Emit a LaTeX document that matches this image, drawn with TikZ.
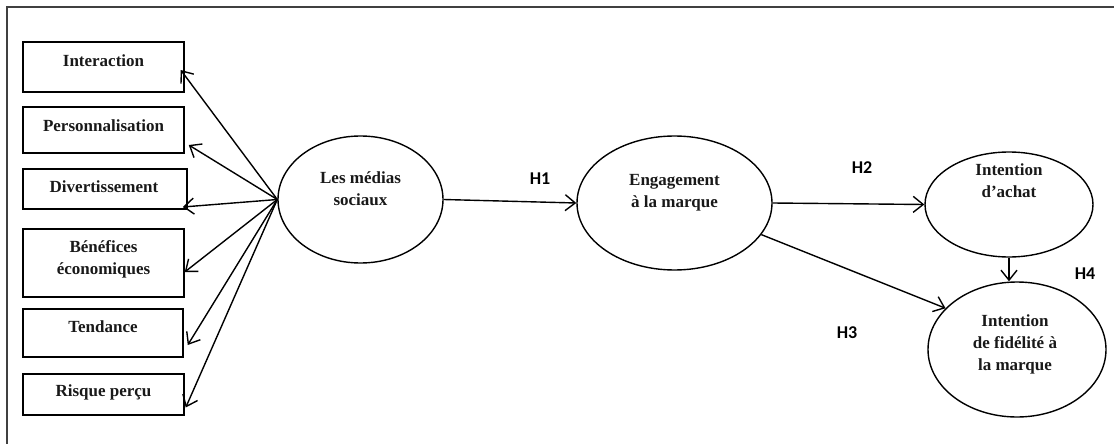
\documentclass[tikz,border=0pt]{standalone}
\usepackage{fontspec}
\setmainfont{Liberation Serif}
\newfontfamily\hfont{Carlito}
\usetikzlibrary{shapes.geometric,arrows.meta}
\begin{document}
\begin{tikzpicture}[x=1pt,y=-1pt,
  box/.style={draw,line width=1.5pt,minimum width=161pt,inner sep=0pt},
  oval/.style={draw,ellipse,line width=1.4pt,inner sep=0pt},
  txt/.style={font=\fontsize{17}{22}\selectfont\bfseries,text=black!90,align=center,inner sep=0pt},
  hyp/.style={font=\hfont\fontsize{18}{20}\selectfont\bfseries,text=black,inner sep=0pt},
  conn/.style={line width=1.4pt,-{Straight Barb[length=10pt,width=16pt,line width=1.4pt]}}]
\useasboundingbox (0,0) rectangle (1114,444);
\draw[line width=1.8pt,black!75] (1114,7) -- (7,7) -- (7,444);
% boxes
\node[box,minimum height=50pt] (int) at (103.5,67) {};
\node[txt] (tint) at (103.5,61) {Interaction};
\node[box,minimum height=46pt] (per) at (103.5,130) {};
\node[txt] (tper) at (103.5,126) {Personnalisation};
\node[box,minimum width=164pt,minimum height=40pt] (div) at (105,189) {};
\node[txt] (tdiv) at (104,187) {Divertissement};
\node[box,minimum height=68pt] (ben) at (103.5,263) {};
\node[txt] (tben) at (103.5,259) {Bénéfices\\économiques};
\node[box,minimum width=160pt,minimum height=48pt] (ten) at (103,333) {};
\node[txt] (tten) at (103,327) {Tendance};
\node[box,minimum height=41pt] (ris) at (103.5,394.5) {};
\node[txt] (tris) at (103.5,392) {Risque perçu};
% ellipses
\node[oval,minimum width=165pt,minimum height=127pt] (med) at (360.5,199.5) {};
\node[txt] (tmed) at (360.5,188.5) {Les médias\\sociaux};
\node[oval,minimum width=195pt,minimum height=134pt] (eng) at (674.5,203) {};
\node[txt] (teng) at (674.5,192.5) {Engagement\\à la marque};
\node[oval,minimum width=168pt,minimum height=105pt] (ach) at (1009,204.5) {};
\node[txt] (tach) at (1009,180.5) {Intention\\d’achat};
\node[oval,minimum width=178pt,minimum height=135pt] (fid) at (1017,349.5) {};
\node[txt] (tfid) at (1015,344) {Intention\\de fidélité à\\la marque};
% connectors from médias
\draw[conn] (med.west) -- ([xshift=-4pt,yshift=-3pt]int.east);
\draw[conn] (med.west) -- ([xshift=4pt,yshift=-15pt]per.east);
\draw[conn] (med.west) -- ([xshift=-5pt,yshift=-18pt]div.east);
\draw[conn] (med.west) -- ([yshift=-9pt]ben.east);
\draw[conn] (med.west) -- ([xshift=4pt,yshift=-12pt]ten.east);
\draw[conn] (med.west) -- ([xshift=1pt,yshift=-13pt]ris.east);
% hypotheses
\draw[conn] (med.east) -- (eng.west);
\draw[conn] (eng.east) -- (ach.west);
\draw[conn] (eng.-20) -- (fid.150);
\draw[conn] (ach.south) -- (ach.south |- fid.north);
\node[hyp] (h1) at (540,179) {H1};
\node[hyp] (h2) at (862,168) {H2};
\node[hyp] (h3) at (847,333) {H3};
\node[hyp] (h4) at (1085,274) {H4};
\end{tikzpicture}
\end{document}
